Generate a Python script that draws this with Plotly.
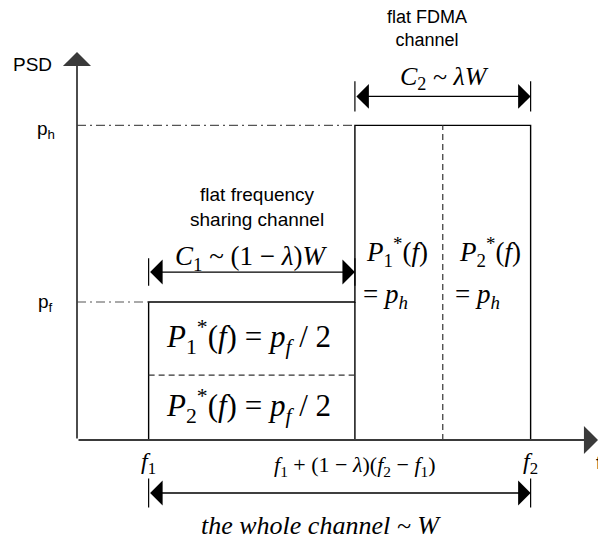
import plotly.graph_objects as go

# ---- data (diagram values, arbitrary units) ----
f1 = 1.5            # start of whole channel
f2 = 9.5            # end of whole channel
lam = 0.46          # fraction of bandwidth given to FDMA part
p_f = 1.0           # PSD level of frequency-sharing channel
p_h = 2.28          # PSD level of FDMA channel
f_split = f1 + (1 - lam) * (f2 - f1)
f_mid = (f_split + f2) / 2

x_range = [-1.6126, 10.911]
y_range = [-0.7174, 3.1884]
y_axis_top = 2.812

SERIF = "Liberation Serif, Times New Roman, serif"
SANS = "Liberation Sans, Arial, sans-serif"

fig = go.Figure()

# rectangles (PSD profile)
fig.add_trace(go.Scatter(
    x=[f1, f1, f_split, f_split, f2, f2],
    y=[0, p_f, p_f, p_h, p_h, 0],
    mode="lines", line=dict(color="black", width=1.4), hoverinfo="skip"))
fig.add_trace(go.Scatter(
    x=[f_split, f_split], y=[0, p_f],
    mode="lines", line=dict(color="black", width=1.4), hoverinfo="skip"))
# dashed splitters
fig.add_trace(go.Scatter(
    x=[f1, f_split], y=[p_f / 2 * 0.94, p_f / 2 * 0.94],
    mode="lines", line=dict(color="#333333", width=1.2, dash="6px,4px"), hoverinfo="skip"))
fig.add_trace(go.Scatter(
    x=[f_mid, f_mid], y=[0, p_h],
    mode="lines", line=dict(color="#333333", width=1.2, dash="6px,4px"), hoverinfo="skip"))
# dash-dot level guides
for lvl, xe in [(p_h, f_split), (p_f, f1)]:
    fig.add_trace(go.Scatter(
        x=[0, xe], y=[lvl, lvl],
        mode="lines", line=dict(color="#555555", width=1.2, dash="9px,4px,2px,4px"),
        hoverinfo="skip"))

# tick marks of dimension arrows
dims = [
    (f_split, f2, p_h + 0.21, 0.11),
    (f1, f_split, p_f + 0.217, 0.10),
    (f1, f2, -0.384, 0.105),
]
for xa, xb, yy, h in dims:
    for xx in (xa, xb):
        fig.add_trace(go.Scatter(x=[xx, xx], y=[yy - h, yy + h], mode="lines",
                                 line=dict(color="black", width=1.2), hoverinfo="skip"))

fig.update_traces(showlegend=False)

ann = []
# axes
ann.append(dict(x=0, y=y_axis_top, ax=0, ay=0, xref="x", yref="y", axref="x", ayref="y",
                showarrow=True, arrowhead=1, arrowsize=2.6, arrowwidth=1.8, arrowcolor="#3a3a3a",
                text=""))
ann.append(dict(x=x_range[1], y=0, ax=0, ay=0, xref="x", yref="y", axref="x", ayref="y",
                showarrow=True, arrowhead=1, arrowsize=2.6, arrowwidth=1.8, arrowcolor="#3a3a3a",
                text=""))
# double-headed dimension arrows
for xa, xb, yy, h in dims:
    ann.append(dict(x=xb, y=yy, ax=xa, ay=yy, xref="x", yref="y", axref="x", ayref="y",
                    showarrow=True, arrowhead=1, startarrowhead=1, arrowside="end+start",
                    arrowsize=3.2, startarrowsize=3.2, arrowwidth=1.3, arrowcolor="black",
                    text=""))

def txt(x, y, s, size, font=SERIF, xanchor="center", yanchor="middle", xshift=0):
    ann.append(dict(x=x, y=y, xref="x", yref="y", text=s, showarrow=False,
                    xanchor=xanchor, yanchor=yanchor, xshift=xshift,
                    font=dict(family=font, size=size, color="black")))

# axis labels
txt(-0.94, y_axis_top - 0.09, "PSD", 19, SANS)
txt(-0.65, p_h - 0.03, "p<sub>h</sub>", 19, SANS)
txt(-0.65, p_f - 0.01, "p<sub>f</sub>", 19, SANS)
txt(x_range[1], -0.17, "f", 18, SANS, xanchor="center", xshift=1)

# channel descriptions
txt(f_mid - 0.33, p_h + 0.7, "flat FDMA<br>channel", 18, SANS)
txt((f1 + f_split) / 2 + 0.1, p_h - 0.59, "flat frequency<br>sharing channel", 19, SANS)

# dimension labels
txt(f_mid + 0.03, p_h + 0.34, "<i>C</i><sub>2</sub> ~ <i>λW</i>", 26)
txt((f1 + f_split) / 2, p_f + 0.32, "<i>C</i><sub>1</sub> ~ (1 − <i>λ</i>)<i>W</i>", 27)
txt((f1 + f2) / 2 - 0.38, -0.62, "<i>the whole channel ~ W</i>", 26)

# frequency labels
txt(f1, -0.17, "<i>f</i><sub>1</sub>", 24)
txt(f2, -0.17, "<i>f</i><sub>2</sub>", 24)
txt(f_split, -0.19,
    "<i>f</i><sub>1</sub> + (1 − <i>λ</i>)(<i>f</i><sub>2</sub> − <i>f</i><sub>1</sub>)", 22)

# power allocations
txt((f1 + f_split) / 2 - 0.06, p_f - 0.25,
    "<i>P</i><sub>1</sub><sup>*</sup>(<i>f</i>) = <i>p<sub>f</sub></i> / 2", 31)
txt((f1 + f_split) / 2 - 0.06, p_f - 0.75,
    "<i>P</i><sub>2</sub><sup>*</sup>(<i>f</i>) = <i>p<sub>f</sub></i> / 2", 31)
txt(f_split + 0.2, 1.36, "<i>P</i><sub>1</sub><sup>*</sup>(<i>f</i>)", 27, xanchor="left")
txt(f_split + 0.13, 1.04, "= <i>p<sub>h</sub></i>", 27, xanchor="left")
txt(f_mid + 0.3, 1.36, "<i>P</i><sub>2</sub><sup>*</sup>(<i>f</i>)", 27, xanchor="left")
txt(f_mid + 0.22, 1.04, "= <i>p<sub>h</sub></i>", 27, xanchor="left")

fig.update_layout(
    width=598, height=539,
    margin=dict(l=0, r=0, t=0, b=0),
    paper_bgcolor="white", plot_bgcolor="white",
    xaxis=dict(range=x_range, visible=False, fixedrange=True),
    yaxis=dict(range=y_range, visible=False, fixedrange=True),
    annotations=ann,
    showlegend=False,
)

fig.write_html("out.html")
